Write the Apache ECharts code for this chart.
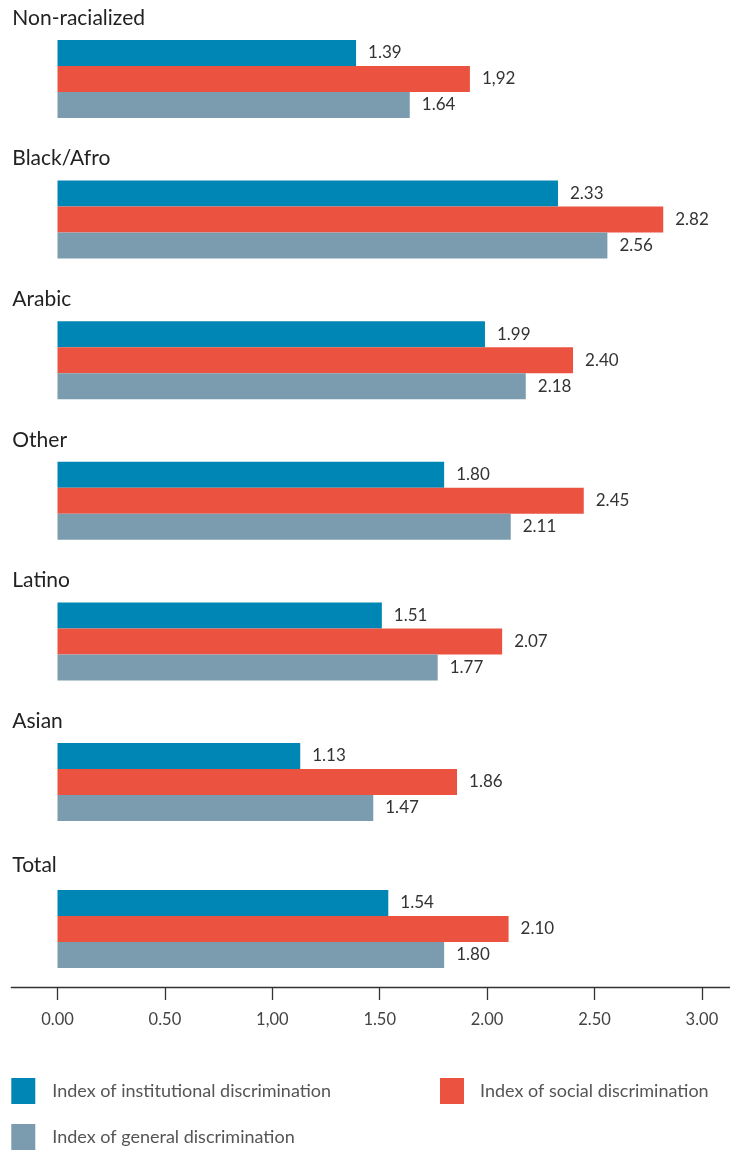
<!DOCTYPE html>
<html>
<head>
<meta charset="utf-8">
<script src="https://cdn.jsdelivr.net/npm/echarts@6/dist/echarts.min.js"></script>
<style>
html,body{margin:0;padding:0;background:#fff;}
#chart{width:730px;height:1151px;}
</style>
</head>
<body>
<div id="chart"></div>
<script>
const categories = ["Non-racialized", "Black/Afro", "Arabic", "Other", "Latino", "Asian", "Total"];
const seriesNames = ["Index of institutional discrimination", "Index of social discrimination", "Index of general discrimination"];
const institutional = [1.39, 2.33, 1.99, 1.80, 1.51, 1.13, 1.54];
const social = [1.92, 2.82, 2.40, 2.45, 2.07, 1.86, 2.10];
const general = [1.64, 2.56, 2.18, 2.11, 1.77, 1.47, 1.80];
const institutionalLabels = ["1.39", "2.33", "1.99", "1.80", "1.51", "1.13", "1.54"];
const socialLabels = ["1,92", "2.82", "2.40", "2.45", "2.07", "1.86", "2.10"];
const generalLabels = ["1.64", "2.56", "2.18", "2.11", "1.77", "1.47", "1.80"];
const tickValues = [0, 0.5, 1, 1.5, 2, 2.5, 3];
const tickLabels = ["0.00", "0.50", "1,00", "1.50", "2.00", "2.50", "3.00"];

const colors = ["#0086B4", "#EB5340", "#7B9CAE"];
const font = "Lato";
const X_MIN = -0.2151, X_MAX = 3.1308;

const values = [institutional, social, general];
const labels = [institutionalLabels, socialLabels, generalLabels];

const chart = echarts.init(document.getElementById('chart'), null, {renderer: 'canvas'});

function makeSeries(gridIdx, start, end) {
  return values.map((vals, i) => ({
    type: 'bar',
    name: seriesNames[i],
    xAxisIndex: gridIdx,
    yAxisIndex: gridIdx,
    data: vals.slice(start, end),
    barWidth: 26,
    barGap: '0%',
    itemStyle: {color: colors[i]},
    label: {
      show: true,
      position: 'right',
      distance: 12,
      fontFamily: font,
      fontSize: 17,
      color: '#333',
      formatter: p => labels[i][start + p.dataIndex]
    },
    emphasis: {disabled: true},
    animation: false
  }));
}

function yAxisFor(gridIdx, cats, shift) {
  return {
    type: 'category',
    gridIndex: gridIdx,
    data: cats,
    inverse: true,
    z: 10,
    axisLine: {show: false},
    axisTick: {show: false},
    axisLabel: {
      inside: true,
      interval: 0,
      hideOverlap: false,
      margin: 1,
      formatter: v => '{t|' + v + '}\n{s|}',
      rich: {
        t: {fontFamily: font, fontSize: 21, color: '#222', lineHeight: 24},
        s: {height: shift * 2, lineHeight: shift * 2}
      }
    }
  };
}

function legendFor(name, left, top, padLeft) {
  return {
    data: [name],
    left: left,
    top: top,
    padding: 0,
    icon: 'rect',
    itemWidth: 24,
    itemHeight: 26,
    selectedMode: false,
    textStyle: {fontFamily: font, fontSize: 18, color: '#555', padding: [0, 0, 0, padLeft]}
  };
}

chart.setOption({
  animation: false,
  grid: [
    {left: 11.3, width: 718.7, top: 8.7, height: 843.6},
    {left: 11.3, width: 718.7, top: 871, height: 116}
  ],
  xAxis: [
    {type: 'value', gridIndex: 0, min: X_MIN, max: X_MAX, show: false},
    {
      type: 'value', gridIndex: 1, min: X_MIN, max: X_MAX,
      splitLine: {show: false},
      axisLine: {show: true, lineStyle: {color: '#333', width: 1.3}},
      axisTick: {show: true, length: 13, customValues: tickValues, lineStyle: {color: '#333', width: 1.3}},
      axisLabel: {
        customValues: tickValues,
        margin: 24,
        fontFamily: font,
        fontSize: 16.5,
        color: '#444',
        formatter: v => {
          const idx = tickValues.findIndex(t => Math.abs(t - v) < 1e-6);
          return idx >= 0 ? tickLabels[idx] : '';
        }
      }
    }
  ],
  yAxis: [
    yAxisFor(0, categories.slice(0, 6), 61),
    yAxisFor(1, categories.slice(6), 64)
  ],
  legend: [
    legendFor(seriesNames[0], 11.3, 1078, 12),
    legendFor(seriesNames[1], 440, 1078, 11),
    legendFor(seriesNames[2], 11.3, 1124, 12)
  ],
  series: [...makeSeries(0, 0, 6), ...makeSeries(1, 6, 7)]
});
</script>
</body>
</html>
